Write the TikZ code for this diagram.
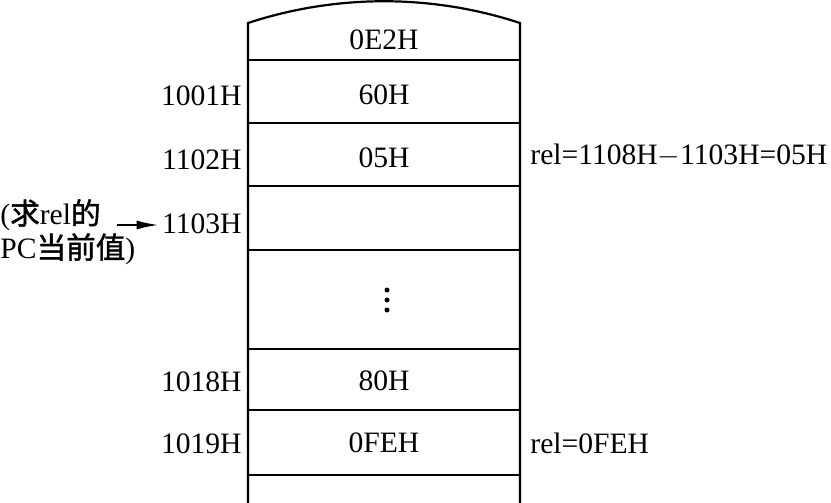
\documentclass[tikz,border=0pt]{standalone}
\usepackage{fontspec}
\setmainfont{Liberation Serif}
\newfontfamily\cjk{Noto Sans CJK SC}[FakeBold=1.5]
\usetikzlibrary{arrows.meta}
\begin{document}
\begin{tikzpicture}[x=0.5pt,y=-0.5pt,
  txt/.style={inner sep=0pt, font=\fontsize{14.8}{17}\selectfont},
  wall/.style={line width=1.1pt},
  dotmark/.style={fill=black, draw=none, circle, inner sep=0pt, minimum size=2.5pt}]
\useasboundingbox (0,0) rectangle (831,503);
\coordinate (tl) at (248,23);
\coordinate (tr) at (520,23);
\coordinate (bl) at (248,503);
\coordinate (br) at (520,503);
\draw[wall] (bl) -- (tl) .. controls (336.5,-6) and (431.5,-6) .. (tr) -- (br);
\foreach \yy in {60,123,186,250,349,410,475} {
  \draw[wall] (248,\yy) -- (520,\yy);
}
% cell contents
\node[txt] (c0) at (384,40) {0E2H};
\node[txt] (c1) at (384,95) {60H};
\node[txt] (c2) at (384,158) {05H};
\node[dotmark] (d1) at (387,290) {};
\node[dotmark] (d2) at (387,300) {};
\node[dotmark] (d3) at (387,310) {};
\node[txt] (c4) at (384,381) {80H};
\node[txt] (c5) at (384,443) {0FEH};
% addresses
\node[txt, anchor=east] (l1) at (242,96) {1001H};
\node[txt, anchor=east] (l2) at (242,160) {1102H};
\node[txt, anchor=east] (l3) at (242,224) {1103H};
\node[txt, anchor=east] (l4) at (242,382) {1018H};
\node[txt, anchor=east] (l5) at (242,444) {1019H};
% right notes
\node[txt, anchor=west] (r1) at (530,155) {rel=1108H$-$1103H=05H};
\node[txt, anchor=west] (r2) at (530,443) {rel=0FEH};
% left note
\node[txt, anchor=west] (n1) at (0,215) {({\cjk 求}rel{\cjk 的}};
\node[txt, anchor=west] (n2) at (0,249) {PC{\cjk 当前值})};
\coordinate (as) at (117,225);
\draw[line width=1pt, -{Latex[length=11pt,width=4.5pt]}, shorten >=1.5pt] (as) -- (as -| l3.west);
\end{tikzpicture}
\end{document}
